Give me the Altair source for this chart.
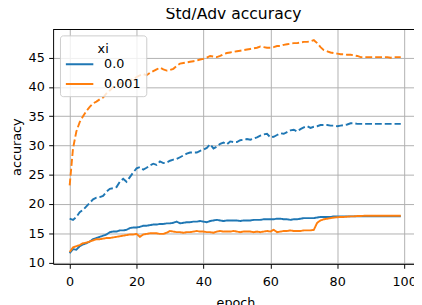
import altair as alt
import pandas as pd

epochs = list(range(100))

adv_xi_0 = [17.5, 17.3, 17.8, 18.6, 19.0, 19.6, 20.2, 20.8, 21.1, 21.2,
            21.4, 22.1, 22.6, 22.7, 22.9, 23.8, 24.3, 23.8, 24.6, 25.4,
            26.1, 26.3, 25.9, 26.2, 26.6, 26.9, 26.7, 27.3, 27.0, 27.1,
            27.4, 27.6, 27.7, 28.0, 28.3, 28.6, 28.8, 28.8, 28.8, 29.1,
            29.3, 29.6, 30.2, 29.5, 29.8, 30.3, 30.5, 30.2, 30.7, 30.6,
            30.6, 30.9, 31.0, 31.1, 31.0, 31.2, 31.4, 31.7, 31.9, 32.0,
            31.4, 31.5, 31.8, 32.1, 32.0, 32.3, 32.6, 32.7, 32.4, 32.8,
            33.1, 33.3, 33.0, 33.2, 33.3, 33.5, 33.5, 33.5, 33.4, 33.4,
            33.3, 33.4, 33.5, 33.6, 33.8, 33.8, 33.7, 33.7, 33.7, 33.7,
            33.7, 33.7, 33.7, 33.7, 33.7, 33.7, 33.7, 33.7, 33.7, 33.7]

adv_xi_001 = [23.2, 29.5, 32.4, 34.0, 35.0, 35.9, 36.6, 37.2, 37.5, 37.9,
              38.2, 38.9, 39.4, 40.0, 40.3, 40.6, 40.8, 41.0, 41.2, 41.3,
              41.7, 42.0, 42.2, 42.0, 42.4, 42.7, 43.0, 43.3, 43.0, 42.8,
              42.9, 43.1, 43.6, 44.0, 44.1, 44.2, 44.3, 44.4, 44.5, 44.7,
              44.8, 45.0, 45.3, 45.2, 45.1, 45.3, 45.6, 45.8, 45.9, 46.0,
              46.1, 46.2, 46.3, 46.4, 46.5, 46.6, 46.7, 46.9, 46.8, 46.7,
              46.7, 46.8, 47.0, 47.0, 47.2, 47.3, 47.4, 47.5, 47.5, 47.6,
              47.7, 47.7, 47.8, 48.0, 47.5, 46.8, 46.3, 46.1, 45.9, 45.8,
              45.7, 45.6, 45.6, 45.5, 45.5, 45.4, 45.3, 45.1, 45.1, 45.1,
              45.1, 45.1, 45.1, 45.1, 45.1, 45.1, 45.0, 45.1, 45.1, 45.1]

std_xi_0 = [11.6, 12.3, 12.2, 12.8, 13.1, 13.3, 13.6, 14.0, 14.2, 14.4,
            14.6, 14.8, 15.2, 15.3, 15.3, 15.5, 15.5, 15.6, 15.9, 16.0,
            16.0, 16.1, 16.3, 16.3, 16.4, 16.5, 16.5, 16.6, 16.6, 16.7,
            16.7, 16.8, 17.0, 16.7, 16.8, 16.9, 16.9, 17.0, 17.0, 17.1,
            17.0, 16.9, 17.1, 17.2, 17.3, 17.2, 17.1, 17.2, 17.2, 17.2,
            17.2, 17.1, 17.2, 17.2, 17.2, 17.3, 17.3, 17.3, 17.4, 17.4,
            17.4, 17.4, 17.5, 17.5, 17.4, 17.4, 17.3, 17.4, 17.4, 17.5,
            17.6, 17.6, 17.6, 17.6, 17.7, 17.8, 17.8, 17.8, 17.8, 17.9,
            17.9, 17.9, 17.9, 17.9, 17.9, 17.9, 17.9, 17.9, 17.9, 17.9,
            17.9, 17.9, 17.9, 17.9, 17.9, 17.9, 17.9, 17.9, 17.9, 17.9]

std_xi_001 = [11.8, 12.6, 12.8, 13.0, 13.3, 13.4, 13.6, 13.8, 14.0, 14.0,
              14.1, 14.2, 14.2, 14.3, 14.4, 14.5, 14.6, 14.7, 14.8, 14.8,
              14.9, 14.4, 14.8, 14.9, 15.0, 15.0, 15.0, 14.9, 14.9, 15.1,
              15.4, 15.3, 15.2, 15.2, 15.1, 15.2, 15.2, 15.3, 15.4, 15.3,
              15.3, 15.2, 15.2, 15.1, 15.3, 15.4, 15.3, 15.3, 15.3, 15.4,
              15.3, 15.2, 15.3, 15.3, 15.3, 15.2, 15.3, 15.2, 15.3, 15.4,
              15.3, 15.6, 15.2, 15.3, 15.4, 15.4, 15.5, 15.4, 15.4, 15.4,
              15.5, 15.5, 15.5, 15.6, 16.8, 17.2, 17.4, 17.5, 17.6, 17.7,
              17.75, 17.8, 17.8, 17.85, 17.9, 17.9, 17.95, 17.95, 18.0, 18.0,
              18.0, 18.0, 18.0, 18.0, 18.0, 18.0, 18.0, 18.0, 18.0, 18.0]

xi_labels = ["0.0", "0.001"]
colors = ["#1f77b4", "#ff7f0e"]
x_ticks = [0, 20, 40, 60, 80, 100]
y_ticks = [10, 15, 20, 25, 30, 35, 40, 45]

rows = []
for xi, std, adv in [("0.0", std_xi_0, adv_xi_0), ("0.001", std_xi_001, adv_xi_001)]:
    for kind, vals in [("std", std), ("adv", adv)]:
        for e, v in zip(epochs, vals):
            rows.append({"epoch": e, "accuracy": v, "xi": xi, "kind": kind,
                         "series": f"{xi}-{kind}"})
df = pd.DataFrame(rows)

FONT = "DejaVu Sans"
W, H = 368, 239

lines = alt.Chart(df).mark_line(strokeWidth=1.95, clip=True).encode(
    x=alt.X("epoch:Q",
            scale=alt.Scale(domain=[-4.95, 102.95], nice=False, zero=False),
            axis=alt.Axis(values=x_ticks, title="epoch", grid=True, labelPadding=8,
                          titleX=186, titleY=43, titleBaseline="alphabetic",
                          titleAlign="center")),
    y=alt.Y("accuracy:Q",
            scale=alt.Scale(domain=[9.78, 49.82], nice=False, zero=False),
            axis=alt.Axis(values=y_ticks, title="accuracy", grid=True, labelPadding=4.5,
                          titleX=-33, titleY=119.5, titleAngle=-90,
                          titleBaseline="alphabetic", titleAlign="center")),
    color=alt.Color("xi:N",
                    scale=alt.Scale(domain=xi_labels, range=colors),
                    legend=alt.Legend(title="xi", orient="none", legendX=7, legendY=6,
                                      symbolType="stroke", symbolSize=784,
                                      symbolStrokeWidth=1.95, clipHeight=14)),
    strokeDash=alt.StrokeDash("kind:N",
                              scale=alt.Scale(domain=["std", "adv"],
                                              range=[[1, 0], [7, 3]]),
                              legend=None),
    detail="series:N",
)

top_spine = alt.Chart(pd.DataFrame({"k": [0]})).mark_rule(
    color="black", strokeWidth=1).encode(
    x=alt.value(0), x2=alt.value(W), y=alt.value(0))

chart = alt.layer(lines, top_spine).properties(
    width=W, height=H,
    title=alt.TitleParams("Std/Adv accuracy", font=FONT, fontSize=15.9,
                          fontWeight="normal", color="black", anchor="middle",
                          frame="group", baseline="alphabetic", offset=8, dy=13.5),
    autosize=alt.AutoSizeParams(type="none"),
    padding={"left": 46, "top": 19, "right": 0, "bottom": 39},
).configure_view(stroke=None).configure_axis(
    labelFont=FONT, labelFontSize=13, labelColor="black",
    titleFont=FONT, titleFontSize=13, titleColor="black", titleFontWeight="normal",
    gridColor="#b0b0b0", gridWidth=1, gridOpacity=1,
    domainColor="black", domainWidth=1,
    tickColor="black", tickSize=4.5, tickWidth=1,
).configure_legend(
    titleFont=FONT, titleFontSize=13, titleFontWeight="normal", titleColor="black",
    labelFont=FONT, labelFontSize=13, labelColor="black",
    titleAnchor="middle", padding=5, rowPadding=6, titlePadding=4.5,
    titleBaseline="line-top", titleLineHeight=17.8,
    labelOffset=10, fillColor="rgba(255,255,255,0.8)", strokeColor="#cccccc",
    cornerRadius=3,
)

chart.save("out.html", embed_options={"renderer": "svg", "actions": False})
